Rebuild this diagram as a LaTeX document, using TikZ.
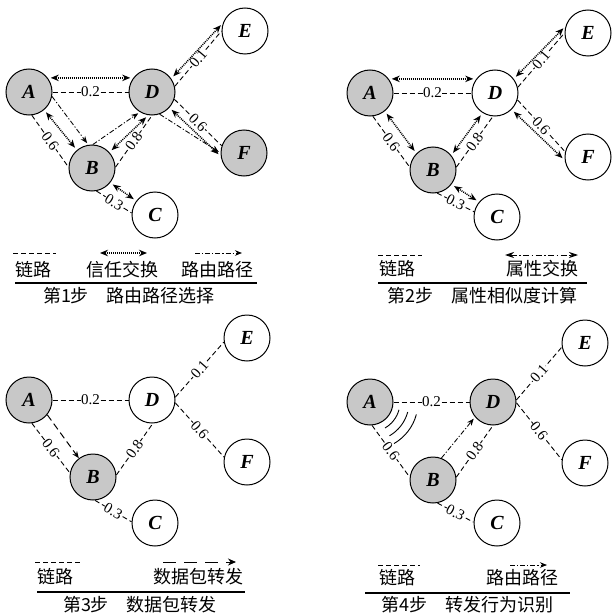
\documentclass[tikz,border=0pt]{standalone}
\usepackage{fontspec}
\setmainfont{Liberation Serif}
\newfontfamily\cjk{Noto Sans CJK SC}
\usetikzlibrary{arrows.meta,calc}
\definecolor{ndgray}{RGB}{200,200,200}
\begin{document}
\begin{tikzpicture}[x=1pt,y=-1pt,
 nd/.style={circle,draw,line width=1pt,minimum size=46pt,inner sep=0pt,font=\fontsize{20}{20}\selectfont\bfseries\itshape},
 gnd/.style={nd,fill=ndgray},
 wnd/.style={nd,fill=white},
 lbl/.style={fill=white,inner sep=0.4pt,sloped,font=\fontsize{15}{15}\selectfont},
 link/.style={line width=0.9pt,dash pattern=on 5pt off 3pt},
 trust/.style={line width=1.5pt,dash pattern=on 1pt off 1pt,{Stealth[length=8pt,width=6.5pt]}-{Stealth[length=8pt,width=6.5pt]},shorten <=3pt,shorten >=3pt},
 route/.style={line width=0.85pt,dash pattern=on 5pt off 2pt on 1.2pt off 2pt,-{Stealth[length=7pt,width=5.5pt]},shorten >=2pt},
 attr/.style={line width=0.9pt,dash pattern=on 6pt off 2.5pt on 1.5pt off 2.5pt,{Stealth[length=9pt,width=6pt]}-{Stealth[length=9pt,width=6pt]}},
 pkt/.style={line width=1pt,dash pattern=on 7pt off 4pt,-{Stealth[length=7pt,width=5.5pt]}},
 legtxt/.style={font=\cjk\fontsize{18}{18}\selectfont,inner sep=0pt},
 rulel/.style={line width=1.1pt},
 wave/.style={line width=0.9pt}]
\useasboundingbox (0,0) rectangle (611,615);

% ---------------- Panel 1 ----------------
\node[gnd] (A1) at (29,92) {A};
\node[gnd] (B1) at (92,168) {B};
\node[wnd] (C1) at (155,215) {C};
\node[gnd] (D1) at (152,92) {D};
\node[wnd] (E1) at (245,31) {E};
\node[gnd] (F1) at (244,153) {F};
\draw[link] (A1.0) -- node[lbl]{0.2} (D1.180);
\draw[trust] (A1.37) -- (D1.143);
\draw[link] (A1.-83) -- node[lbl]{0.6} (B1.178);
\draw[trust] (A1.-50) -- (B1.130);
\draw[route] (A1.-11) -- (B1.99);
\draw[link] (B1.2) -- node[lbl]{0.8} (D1.-90);
\draw[trust] (B1.42) -- (D1.-99);
\draw[route] (B1.88) -- (D1.-121);
\draw[link] (B1.-79) -- node[lbl]{0.3} (C1.175);
\draw[trust] (B1.-39) -- (C1.143);
\draw[link] (D1.14) -- node[lbl]{0.1} (E1.180);
\draw[trust] (D1.35) -- (E1.160);
\draw[link] (D1.-18) -- node[lbl]{0.6} (F1.162);
\draw[trust] (D1.-42) -- (F1.-172);
\draw[route] (D1.-71) -- (F1.180);
% legend 1
\coordinate (l1a) at (13,253); \coordinate (l1b) at (56,253);
\coordinate (l1c) at (100,253); \coordinate (l1d) at (147,253);
\coordinate (l1e) at (195,253); \coordinate (l1f) at (242,253);
\coordinate (l1g) at (15,283); \coordinate (l1h) at (257,283);
\draw[link] (l1a) -- (l1b);
\draw[trust,shorten <=0pt,shorten >=0pt] (l1c) -- (l1d);
\draw[route,shorten >=0pt] (l1e) -- (l1f);
\draw[rulel] (l1g) -- (l1h);
\node[legtxt] (t1a) at (33,270) {链路};
\node[legtxt] (t1b) at (122,270) {信任交换};
\node[legtxt] (t1c) at (217,270) {路由路径};
\node[legtxt] (t1d) at (129,296) {第1步\hspace{1em}路由路径选择};

% ---------------- Panel 2 ----------------
\node[gnd] (A2) at (370,93) {A};
\node[gnd] (B2) at (433,170) {B};
\node[wnd] (C2) at (497,217) {C};
\node[wnd] (D2) at (495,93) {D};
\node[wnd] (E2) at (588,33) {E};
\node[wnd] (F2) at (588,157) {F};
\draw[link] (A2.0) -- node[lbl]{0.2} (D2.180);
\draw[trust] (A2.37) -- (D2.143);
\draw[link] (A2.-83) -- node[lbl]{0.6} (B2.173);
\draw[trust] (A2.-51) -- (B2.135);
\draw[link] (B2.7) -- node[lbl]{0.8} (D2.-95);
\draw[trust] (B2.39) -- (D2.-122);
\draw[link] (B2.-80) -- node[lbl]{0.3} (C2.167);
\draw[trust] (B2.-38) -- (C2.140);
\draw[link] (D2.14) -- node[lbl]{0.1} (E2.180);
\draw[trust] (D2.37) -- (E2.163);
\draw[link] (D2.-17) -- node[lbl]{0.6} (F2.167);
\draw[trust] (D2.-45) -- (F2.-172);
% legend 2
\coordinate (l2a) at (378,255); \coordinate (l2b) at (422,255);
\coordinate (l2c) at (505,255); \coordinate (l2d) at (578,255);
\coordinate (l2g) at (378,283); \coordinate (l2h) at (587,283);
\draw[link] (l2a) -- (l2b);
\draw[attr] (l2c) -- (l2d);
\draw[rulel] (l2g) -- (l2h);
\node[legtxt] (t2a) at (397,269) {链路};
\node[legtxt] (t2b) at (542,269) {属性交换};
\node[legtxt] (t2d) at (482,296) {第2步\hspace{1em}属性相似度计算};

% ---------------- Panel 3 ----------------
\node[gnd] (A3) at (29,400) {A};
\node[gnd] (B3) at (93,477) {B};
\node[wnd] (C3) at (155,523) {C};
\node[wnd] (D3) at (152,400) {D};
\node[wnd] (E3) at (247,338) {E};
\node[wnd] (F3) at (247,462) {F};
\draw[link] (A3.0) -- node[lbl]{0.2} (D3.180);
\draw[link] (A3.-83) -- node[lbl]{0.6} (B3.170);
\draw[pkt] (A3.-39) -- (B3.127);
\draw[link] (B3.5) -- node[lbl]{0.8} (D3.-88);
\draw[link] (B3.-85) -- node[lbl]{0.3} (C3.177);
\draw[link] (D3.7) -- node[lbl]{0.1} (E3.190);
\draw[link] (D3.-7) -- node[lbl]{0.6} (F3.168);
% legend 3
\coordinate (l3a) at (35,562); \coordinate (l3b) at (80,562);
\coordinate (l3c) at (163,562); \coordinate (l3d) at (236,562);
\coordinate (l3g) at (37,592); \coordinate (l3h) at (245,592);
\draw[link] (l3a) -- (l3b);
\draw[pkt,dash pattern=on 13pt off 8pt,-{Stealth[length=8pt,width=7pt]}] (l3c) -- (l3d);
\draw[rulel] (l3g) -- (l3h);
\node[legtxt] (t3a) at (55,577) {链路};
\node[legtxt] (t3b) at (198,577) {数据包转发};
\node[legtxt] (t3d) at (140,605) {第3步\hspace{1em}数据包转发};

% ---------------- Panel 4 ----------------
\node[gnd] (A4) at (370,402) {A};
\node[gnd] (B4) at (433,480) {B};
\node[wnd] (C4) at (497,523) {C};
\node[gnd] (D4) at (493,402) {D};
\node[wnd] (E4) at (585,343) {E};
\node[wnd] (F4) at (585,463) {F};
\draw[link] (A4.0) -- node[lbl]{0.2} (D4.180);
\draw[link] (A4.-85) -- node[lbl]{0.6} (B4.173);
\draw[link] (B4.7) -- node[lbl]{0.8} (D4.-90);
\draw[route] (B4.69) -- (D4.-140);
\draw[link] (B4.-79) -- node[lbl]{0.3} (C4.178);
\draw[link] (D4.5) -- node[lbl]{0.1} (E4.190);
\draw[link] (D4.-2) -- node[lbl]{0.6} (F4.172);
\foreach \r in {30,39,48}
  \draw[wave] ($(A4.center)+(15:\r)$) arc[start angle=15,end angle=60,radius=\r];
% legend 4
\coordinate (l4a) at (378,565); \coordinate (l4b) at (420,565);
\coordinate (l4c) at (510,565); \coordinate (l4d) at (547,565);
\coordinate (l4g) at (365,593); \coordinate (l4h) at (570,593);
\draw[link] (l4a) -- (l4b);
\draw[route,shorten >=0pt] (l4c) -- (l4d);
\draw[rulel] (l4g) -- (l4h);
\node[legtxt] (t4a) at (397,578) {链路};
\node[legtxt] (t4b) at (522,578) {路由路径};
\node[legtxt] (t4d) at (467,605) {第4步\hspace{1em}转发行为识别};
\end{tikzpicture}
\end{document}
